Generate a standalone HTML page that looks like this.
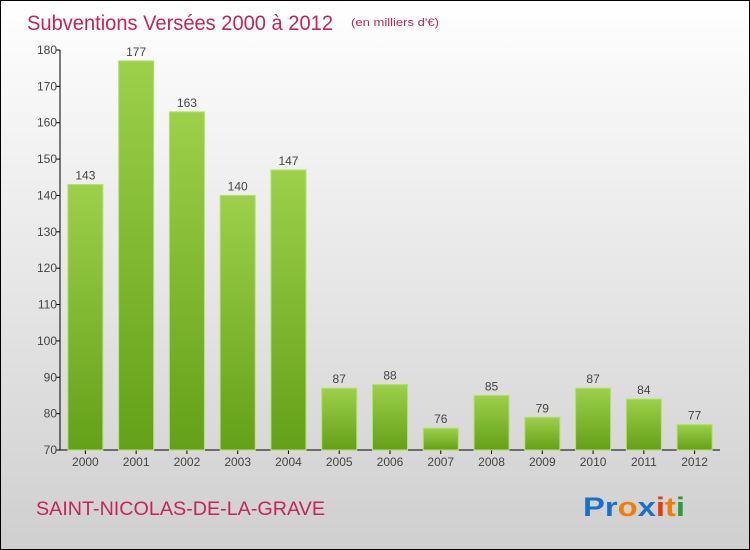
<!DOCTYPE html>
<html><head><meta charset="utf-8"><style>
body{margin:0}
svg{display:block;font-family:"Liberation Sans",sans-serif}
</style></head><body>
<svg width="750" height="550" viewBox="0 0 750 550">
<defs>
<linearGradient id="bg" x1="0" y1="0" x2="0" y2="1"><stop offset="0" stop-color="#ffffff"/><stop offset="1" stop-color="#cfcfcf"/></linearGradient>
<linearGradient id="bar" x1="0" y1="0" x2="0" y2="1"><stop offset="0" stop-color="#9dd04b"/><stop offset="1" stop-color="#64a019"/></linearGradient>
</defs>
<rect x="0.5" y="0.5" width="749" height="549" fill="url(#bg)" stroke="#000"/>
<text x="27" y="30" font-size="21" fill="#c4245a" textLength="306" lengthAdjust="spacingAndGlyphs">Subventions Versées 2000 à 2012</text>
<text x="351" y="26" font-size="11" fill="#c4245a" textLength="88" lengthAdjust="spacingAndGlyphs">(en milliers d'€)</text>
<text x="36" y="515" font-size="19" fill="#c4245a" textLength="289" lengthAdjust="spacingAndGlyphs">SAINT-NICOLAS-DE-LA-GRAVE</text>
<g font-size="27" font-weight="bold">
<text x="583" y="516" textLength="102" lengthAdjust="spacingAndGlyphs"><tspan fill="#1a6fc9">Pr</tspan><tspan fill="#f07d0a">o</tspan><tspan fill="#1a6fc9">x</tspan><tspan fill="#e03a16">i</tspan><tspan fill="#f07d0a">t</tspan><tspan fill="#2a9a3a">i</tspan></text>
</g>
<g id="axes"></g>
<g id="bars"></g>
</svg>
<script>
const years=["2000","2001","2002","2003","2004","2005","2006","2007","2008","2009","2010","2011","2012"];
const values=[143,177,163,140,147,87,88,76,85,79,87,84,77];
const yTicks=[70,80,90,100,110,120,130,140,150,160,170,180];
const NS="http://www.w3.org/2000/svg";
const y0=450,y1=50,vmin=70,vmax=180,x0=60,xEnd=720;
const y=v=>y0-(v-vmin)/(vmax-vmin)*(y0-y1);
const step=(xEnd-x0)/years.length;
const xc=i=>x0+step*(i+0.5);
function mk(tag,attrs,parent){const e=document.createElementNS(NS,tag);for(const k in attrs)e.setAttribute(k,attrs[k]);parent.appendChild(e);return e;}
const ax=document.getElementById('axes'),bg=document.getElementById('bars');
let l=mk('line',{x1:x0,y1:y1,x2:x0,y2:y0,stroke:'#000'},ax);


l=mk('line',{x1:x0,y1:y0,x2:xEnd,y2:y0,stroke:'#000'},ax);


yTicks.forEach(t=>{
  mk('line',{x1:x0-4,y1:y(t),x2:x0,y2:y(t),stroke:'#000'},ax);
  const tx=mk('text',{x:x0-3,y:y(t)+4,'font-size':12,fill:'#444','text-anchor':'end'},ax);
  tx.textContent=t;
  
  
});
years.forEach((yr,i)=>{
  const v=values[i],w=35;
  mk('line',{x1:xc(i),y1:y0,x2:xc(i),y2:y0+4,stroke:'#000'},ax);
  const tl=mk('text',{x:xc(i),y:y0+16,'font-size':12,fill:'#444','text-anchor':'middle'},ax);
  tl.textContent=yr;
  
  
  const r=mk('rect',{x:xc(i)-w/2,y:y(v),width:w,height:y0-y(v),fill:'url(#bar)',stroke:'#b5e070','stroke-width':1},bg);
  
  
  const vl=mk('text',{x:xc(i),y:y(v)-5,'font-size':12,fill:'#444','text-anchor':'middle'},bg);
  vl.textContent=v;
  
  
});
</script>
</body></html>
